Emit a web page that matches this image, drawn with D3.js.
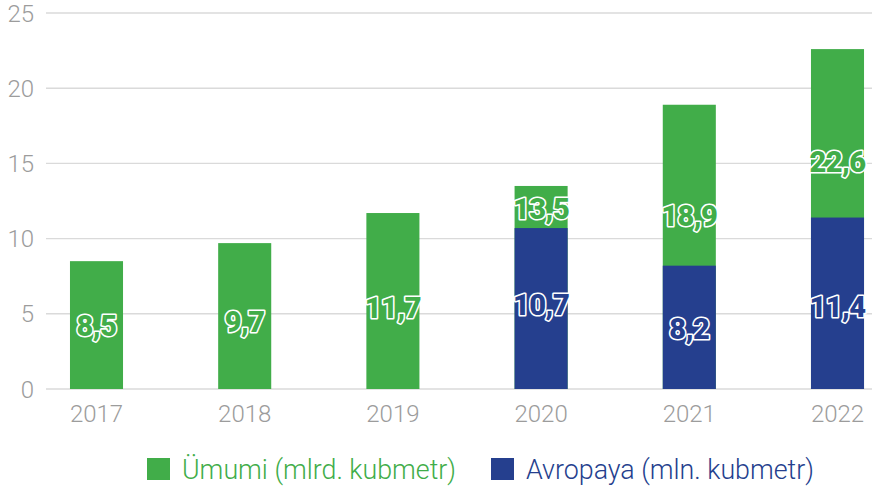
<!DOCTYPE html>
<html>
<head>
<meta charset="utf-8">
<script src="https://cdn.jsdelivr.net/npm/d3@7"></script>
<style>
  body { margin: 0; background: #fff; }
  svg { display: block; font-family: Roboto, "Noto Sans", sans-serif; }
  .tick-label { fill: #9c9c9c; font-size: 24px; font-weight: 300; }
  .bar-label { font-size: 29px; font-weight: 900; letter-spacing: -0.5px; stroke: #fff; stroke-width: 3.2px; paint-order: stroke; stroke-linejoin: round; }
  .legend-text { font-size: 26.8px; font-weight: 300; }
</style>
</head>
<body>
<svg id="chart" width="872" height="491"></svg>
<script>
const years = ["2017", "2018", "2019", "2020", "2021", "2022"];
const totalValues = [8.5, 9.7, 11.7, 13.5, 18.9, 22.6];
const europeValues = [null, null, null, 10.7, 8.2, 11.4];
// where the labels sit on the value axis
const totalLabelAt = [4.25, 4.5, 5.4, 12.0, 11.5, 15.1];
const europeLabelAt = [null, null, null, 5.6, 4.05, 5.5];
const yTicks = [0, 5, 10, 15, 20, 25];
const legendNames = ["Ümumi (mlrd. kubmetr)", "Avropaya (mln. kubmetr)"];

const colors = { total: "#41ad49", europe: "#253f8e" };

const svg = d3.select("#chart");
const width = 872;

const x = d3.scaleBand()
  .domain(years)
  .range([22.4, 911.6])
  .paddingInner(0.642)
  .paddingOuter(0.321);

const y = d3.scaleLinear().domain([0, 25]).range([389, 13]);

const fmt = (v) => String(v).replace(".", ",");

// grid lines
svg.append("g")
  .selectAll("line")
  .data(yTicks)
  .enter()
  .append("line")
  .attr("x1", 46)
  .attr("x2", width)
  .attr("y1", (d) => y(d))
  .attr("y2", (d) => y(d))
  .style("stroke", "#dadada")
  .style("stroke-width", 1.4);

// y tick labels
svg.append("g")
  .selectAll("text")
  .data(yTicks)
  .enter()
  .append("text")
  .attr("class", "tick-label")
  .attr("x", 34)
  .attr("y", (d) => y(d))
  .attr("dy", "0.36em")
  .attr("text-anchor", "end")
  .text((d) => d);

// x labels
svg.append("g")
  .selectAll("text")
  .data(years)
  .enter()
  .append("text")
  .attr("class", "tick-label")
  .attr("x", (d) => x(d) + x.bandwidth() / 2)
  .attr("y", 422)
  .attr("text-anchor", "middle")
  .text((d) => d);

const rows = years.map((yr, i) => ({
  year: yr,
  total: totalValues[i],
  europe: europeValues[i],
  totalAt: totalLabelAt[i],
  europeAt: europeLabelAt[i],
}));

// total bars, europe overlaid in front
svg.append("g")
  .selectAll("rect")
  .data(rows)
  .enter()
  .append("rect")
  .attr("x", (d) => x(d.year))
  .attr("width", x.bandwidth())
  .attr("y", (d) => y(d.total))
  .attr("height", (d) => y(0) - y(d.total))
  .style("fill", colors.total);

svg.append("g")
  .selectAll("rect")
  .data(rows.filter((d) => d.europe != null))
  .enter()
  .append("rect")
  .attr("x", (d) => x(d.year))
  .attr("width", x.bandwidth())
  .attr("y", (d) => y(d.europe))
  .attr("height", (d) => y(0) - y(d.europe))
  .style("fill", colors.europe);

// value labels
svg.append("g")
  .selectAll("text")
  .data(rows)
  .enter()
  .append("text")
  .attr("class", "bar-label")
  .attr("x", (d) => x(d.year) + x.bandwidth() / 2)
  .attr("y", (d) => y(d.totalAt))
  .attr("dy", "0.36em")
  .attr("text-anchor", "middle")
  .style("fill", colors.total)
  .text((d) => fmt(d.total));

svg.append("g")
  .selectAll("text")
  .data(rows.filter((d) => d.europe != null))
  .enter()
  .append("text")
  .attr("class", "bar-label")
  .attr("x", (d) => x(d.year) + x.bandwidth() / 2)
  .attr("y", (d) => y(d.europeAt))
  .attr("dy", "0.36em")
  .attr("text-anchor", "middle")
  .style("fill", colors.europe)
  .text((d) => fmt(d.europe));

// legend
const legend = svg.append("g");
const legendItems = [
  { name: legendNames[0], color: colors.total, x: 147 },
  { name: legendNames[1], color: colors.europe, x: 491 },
];
legendItems.forEach((item) => {
  legend.append("rect")
    .attr("x", item.x)
    .attr("y", 458)
    .attr("width", 23)
    .attr("height", 22)
    .style("fill", item.color);
  legend.append("text")
    .attr("class", "legend-text")
    .attr("x", item.x + 35)
    .attr("y", 479)
    .style("fill", item.color)
    .text(item.name);
});
</script>
</body>
</html>
